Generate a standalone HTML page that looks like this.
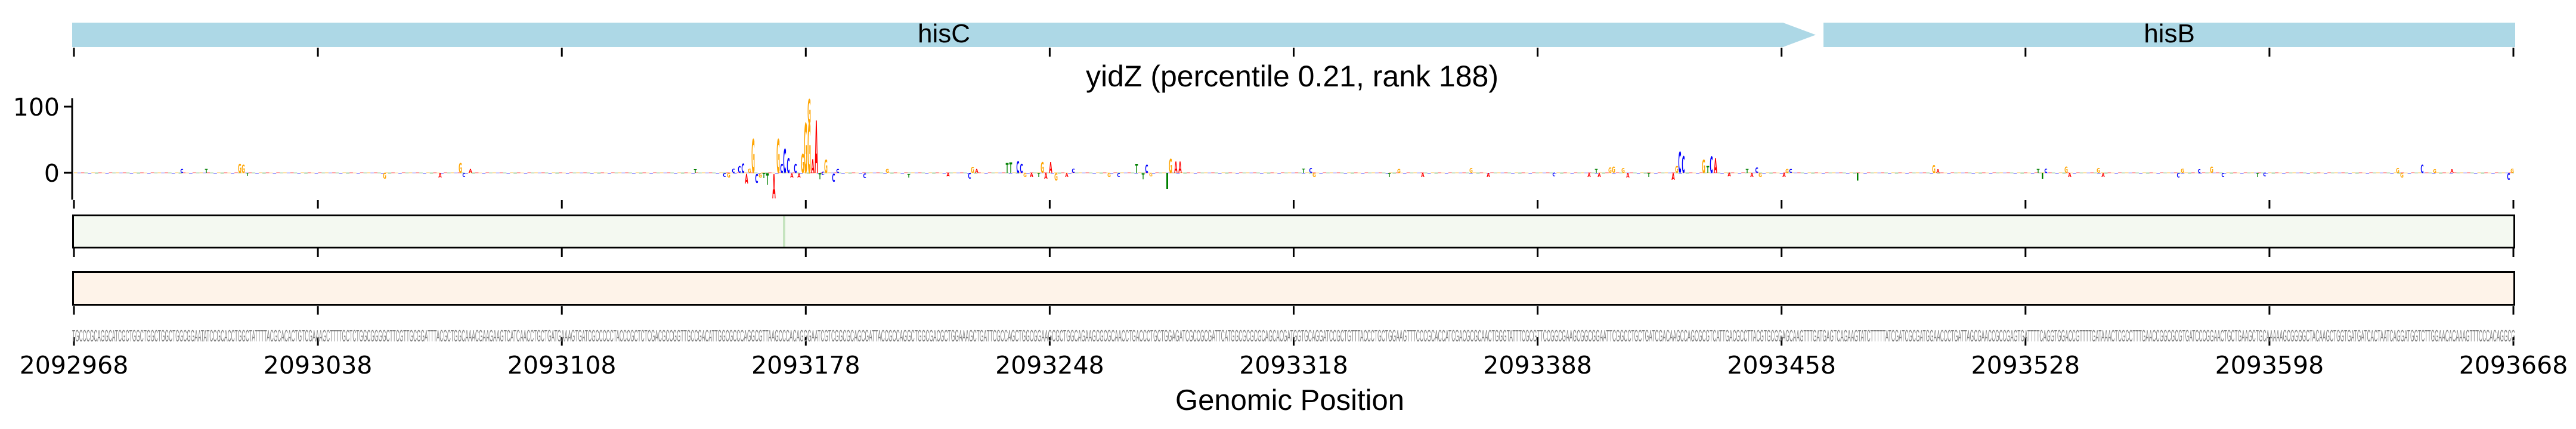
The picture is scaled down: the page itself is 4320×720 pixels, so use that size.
<!DOCTYPE html>
<html><head><meta charset="utf-8"><style>
html,body{margin:0;padding:0;background:#fff;}
svg{display:block;}
.lg{font-family:"DejaVu Sans",sans-serif;font-weight:bold;font-size:10px;text-anchor:middle;}
.A{fill:#ff0000}.C{fill:#0000ff}.G{fill:#ffa500}.T{fill:#008000}
</style></head><body>
<svg width="4320" height="720" viewBox="0 0 4320 720" xmlns="http://www.w3.org/2000/svg">
<defs>
<pattern id="noise" patternUnits="userSpaceOnUse" x="124" y="0" width="70.2" height="720">
<rect x="0" y="289" width="5.8" height="2" fill="#ffa500"/>
<rect x="5.8" y="289.5" width="5.8" height="1.5" fill="#0000ff"/>
<rect x="11.7" y="289" width="5.8" height="2" fill="#ff0000"/>
<rect x="17.5" y="289.5" width="5.8" height="1.5" fill="#008000"/>
<rect x="23.4" y="290" width="5.8" height="2" fill="#0000ff"/>
<rect x="29.2" y="289" width="5.8" height="1.5" fill="#ffa500"/>
<rect x="35.1" y="289.5" width="5.8" height="2" fill="#008000"/>
<rect x="40.9" y="289" width="5.8" height="2" fill="#ff0000"/>
<rect x="46.8" y="289.5" width="5.8" height="1.5" fill="#ffa500"/>
<rect x="52.6" y="290" width="5.8" height="2" fill="#0000ff"/>
<rect x="58.5" y="289" width="5.8" height="1.5" fill="#ff0000"/>
<rect x="64.3" y="289.5" width="5.8" height="1.5" fill="#008000"/>
</pattern>
</defs>

<!-- gene track -->
<rect x="121" y="38" width="2870" height="41" fill="#add8e6"/>
<polygon points="2990,38 3045,58.5 2990,79" fill="#add8e6"/>
<rect x="3058" y="38" width="1160" height="41" fill="#add8e6"/>
<text x="1583" y="71" font-family="Liberation Sans, sans-serif" font-size="44" text-anchor="middle" fill="#000">hisC</text>
<text x="3638" y="71" font-family="Liberation Sans, sans-serif" font-size="44" text-anchor="middle" fill="#000">hisB</text>

<!-- title -->
<text x="2167" y="145" font-family="Liberation Sans, sans-serif" font-size="50" text-anchor="middle" fill="#000">yidZ (percentile 0.21, rank 188)</text>

<!-- ticks -->
<g stroke="#000" stroke-width="3">
<path d="M124 80V95M533.1 80V95M942.2 80V95M1351.3 80V95M1760.4 80V95M2169.5 80V95M2578.6 80V95M2987.7 80V95M3396.8 80V95M3805.9 80V95M4215 80V95"/>
<path d="M124 336V350M533.1 336V350M942.2 336V350M1351.3 336V350M1760.4 336V350M2169.5 336V350M2578.6 336V350M2987.7 336V350M3396.8 336V350M3805.9 336V350M4215 336V350"/>
<path d="M124 417V431M533.1 417V431M942.2 417V431M1351.3 417V431M1760.4 417V431M2169.5 417V431M2578.6 417V431M2987.7 417V431M3396.8 417V431M3805.9 417V431M4215 417V431"/>
<path d="M124 514V528M533.1 514V528M942.2 514V528M1351.3 514V528M1760.4 514V528M2169.5 514V528M2578.6 514V528M2987.7 514V528M3396.8 514V528M3805.9 514V528M4215 514V528"/>
<path d="M124 566V580M533.1 566V580M942.2 566V580M1351.3 566V580M1760.4 566V580M2169.5 566V580M2578.6 566V580M2987.7 566V580M3396.8 566V580M3805.9 566V580M4215 566V580"/>
</g>

<!-- logo axis -->
<line x1="121" y1="165" x2="121" y2="335" stroke="#000" stroke-width="3"/>
<line x1="107" y1="179" x2="121" y2="179" stroke="#000" stroke-width="3"/>
<line x1="107" y1="290" x2="121" y2="290" stroke="#000" stroke-width="3"/>
<text x="100" y="194" font-family="DejaVu Sans, sans-serif" font-size="41" text-anchor="end">100</text>
<text x="100" y="305" font-family="DejaVu Sans, sans-serif" font-size="41" text-anchor="end">0</text>

<!-- logo noise -->
<rect x="124" y="286" width="4092" height="10" fill="url(#noise)" opacity="0.35"/>

<!-- logo letters -->
<g class="lg">
<text class="G" transform="translate(402,290) scale(0.7,2.06)">G</text>
<text class="G" transform="translate(408,290) scale(0.7,1.9)">G</text>
<text class="T" transform="translate(415,295) scale(0.7,0.68)">T</text>
<text class="C" transform="translate(305,290) scale(0.7,0.9)">C</text>
<text class="T" transform="translate(346,290) scale(0.7,0.9)">T</text>
<text class="G" transform="translate(645,300) scale(0.7,1.3)">G</text>
<text class="A" transform="translate(738,298) scale(0.7,1.1)">A</text>
<text class="G" transform="translate(772,290) scale(0.7,2.2)">G</text>
<text class="A" transform="translate(789,290) scale(0.7,0.9)">A</text>
<text class="C" transform="translate(778,297) scale(0.7,0.9)">C</text>
<text class="T" transform="translate(1166,290) scale(0.7,0.8)">T</text>
<text class="C" transform="translate(1215,297) scale(0.7,0.9)">C</text>
<text class="G" transform="translate(1222,298) scale(0.7,1.1)">G</text>
<text class="C" transform="translate(1230,290) scale(0.7,1.0)">C</text>
<text class="C" transform="translate(1240,290) scale(0.7,1.6)">C</text>
<text class="C" transform="translate(1246,290) scale(0.7,2.1)">C</text>
<text class="A" transform="translate(1252,308) scale(0.7,2.2)">A</text>
<text class="G" transform="translate(1257,290) scale(0.7,1.0)">G</text>
<text class="G" transform="translate(1263,290) scale(0.7,7.8)">G</text>
<text class="C" transform="translate(1269,307) scale(0.7,2.0)">C</text>
<text class="G" transform="translate(1275,298) scale(0.7,1.0)">G</text>
<text class="T" transform="translate(1281,299) scale(0.7,1.2)">T</text>
<text class="T" transform="translate(1287,310) scale(0.7,2.6)">T</text>
<text class="A" transform="translate(1298,333) scale(0.7,5.6)">A</text>
<text class="G" transform="translate(1305,290) scale(0.7,7.8)">G</text>
<text class="C" transform="translate(1311,290) scale(0.7,2.0)">C</text>
<text class="C" transform="translate(1316,290) scale(0.7,5.5)">C</text>
<text class="C" transform="translate(1322,290) scale(0.7,3.4)">C</text>
<text class="A" transform="translate(1328,298) scale(0.7,1.0)">A</text>
<text class="C" transform="translate(1334,290) scale(0.7,2.0)">C</text>
<text class="A" transform="translate(1340,298) scale(0.7,1.0)">A</text>
<text class="G" transform="translate(1346,290) scale(0.7,4.4)">G</text>
<text class="G" transform="translate(1351,290) scale(0.7,11.4)">G</text>
<text class="G" transform="translate(1357,207) scale(0.7,5.6)">G</text>
<text class="G" transform="translate(1357,290) scale(0.7,11.4)">G</text>
<text class="A" transform="translate(1363,290) scale(0.7,3.1)">A</text>
<text class="A" transform="translate(1369,290) scale(0.7,12.0)">A</text>
<text class="T" transform="translate(1375,301) scale(0.7,1.4)">T</text>
<text class="C" transform="translate(1380,294) scale(0.7,0.8)">C</text>
<text class="G" transform="translate(1385,290) scale(0.7,3.0)">G</text>
<text class="C" transform="translate(1398,305) scale(0.7,1.9)">C</text>
<text class="C" transform="translate(1405,290) scale(0.7,0.9)">C</text>
<text class="C" transform="translate(1450,299) scale(0.7,1.1)">C</text>
<text class="G" transform="translate(1488,290) scale(0.7,0.9)">G</text>
<text class="T" transform="translate(1524,298) scale(0.7,0.8)">T</text>
<text class="A" transform="translate(1590,296) scale(0.7,0.8)">A</text>
<text class="C" transform="translate(1626,300) scale(0.7,1.3)">C</text>
<text class="G" transform="translate(1631,290) scale(0.7,1.3)">G</text>
<text class="A" transform="translate(1638,290) scale(0.7,0.9)">A</text>
<text class="T" transform="translate(1689,290) scale(0.7,2.2)">T</text>
<text class="T" transform="translate(1695,290) scale(0.7,2.4)">T</text>
<text class="C" transform="translate(1707,290) scale(0.7,2.7)">C</text>
<text class="C" transform="translate(1713,290) scale(0.7,2.0)">C</text>
<text class="G" transform="translate(1719,297) scale(0.7,0.9)">G</text>
<text class="A" transform="translate(1730,297) scale(0.7,1.0)">A</text>
<text class="T" transform="translate(1742,297) scale(0.7,1.0)">T</text>
<text class="G" transform="translate(1748,290) scale(0.7,2.5)">G</text>
<text class="A" transform="translate(1754,300) scale(0.7,1.3)">A</text>
<text class="A" transform="translate(1762,290) scale(0.7,2.5)">A</text>
<text class="G" transform="translate(1771,303) scale(0.7,1.7)">G</text>
<text class="A" transform="translate(1789,297) scale(0.7,0.9)">A</text>
<text class="C" transform="translate(1800,290) scale(0.7,1.0)">C</text>
<text class="G" transform="translate(1860,297) scale(0.7,1.0)">G</text>
<text class="C" transform="translate(1876,297) scale(0.7,0.9)">C</text>
<text class="T" transform="translate(1906,290) scale(0.7,2.0)">T</text>
<text class="T" transform="translate(1917,301) scale(0.7,1.3)">T</text>
<text class="C" transform="translate(1923,290) scale(0.7,1.9)">C</text>
<text class="G" transform="translate(1930,296) scale(0.7,0.8)">G</text>
<rect x="1956" y="290" width="3" height="27" fill="#008000"/>
<text class="G" transform="translate(1963,290) scale(0.7,3.2)">G</text>
<text class="A" transform="translate(1972,290) scale(0.7,2.6)">A</text>
<text class="A" transform="translate(1979,290) scale(0.7,2.6)">A</text>
<text class="T" transform="translate(2186,290) scale(0.7,1.0)">T</text>
<text class="C" transform="translate(2198,290) scale(0.7,1.1)">C</text>
<text class="G" transform="translate(2204,297) scale(0.7,1.0)">G</text>
<text class="T" transform="translate(2330,297) scale(0.7,0.9)">T</text>
<text class="G" transform="translate(2346,290) scale(0.7,0.9)">G</text>
<text class="A" transform="translate(2386,297) scale(0.7,1.0)">A</text>
<text class="G" transform="translate(2467,290) scale(0.7,1.1)">G</text>
<text class="A" transform="translate(2496,297) scale(0.7,1.0)">A</text>
<text class="C" transform="translate(2606,296) scale(0.7,0.9)">C</text>
<text class="A" transform="translate(2665,297) scale(0.7,0.9)">A</text>
<text class="T" transform="translate(2677,290) scale(0.7,0.9)">T</text>
<text class="A" transform="translate(2682,297) scale(0.7,0.9)">A</text>
<text class="G" transform="translate(2700,290) scale(0.7,1.2)">G</text>
<text class="G" transform="translate(2706,290) scale(0.7,1.4)">G</text>
<text class="A" transform="translate(2730,298) scale(0.7,1.1)">A</text>
<text class="T" transform="translate(2765,297) scale(0.7,1.0)">T</text>
<text class="G" transform="translate(2722,290) scale(0.7,1.1)">G</text>
<text class="A" transform="translate(2806,302) scale(0.7,1.6)">A</text>
<text class="G" transform="translate(2812,290) scale(0.7,1.6)">G</text>
<text class="C" transform="translate(2817,290) scale(0.7,4.8)">C</text>
<text class="C" transform="translate(2823,290) scale(0.7,3.8)">C</text>
<text class="G" transform="translate(2857,290) scale(0.7,3.0)">G</text>
<text class="T" transform="translate(2864,290) scale(0.7,1.6)">T</text>
<text class="C" transform="translate(2870,290) scale(0.7,3.7)">C</text>
<text class="A" transform="translate(2877,290) scale(0.7,3.4)">A</text>
<text class="A" transform="translate(2900,296) scale(0.7,0.9)">A</text>
<text class="T" transform="translate(2930,290) scale(0.7,0.9)">T</text>
<text class="A" transform="translate(2938,297) scale(0.7,1.0)">A</text>
<text class="C" transform="translate(2946,290) scale(0.7,1.2)">C</text>
<text class="G" transform="translate(2952,297) scale(0.7,1.0)">G</text>
<text class="A" transform="translate(2992,297) scale(0.7,1.0)">A</text>
<text class="G" transform="translate(2997,290) scale(0.7,0.9)">G</text>
<text class="C" transform="translate(3003,290) scale(0.7,0.9)">C</text>
<rect x="3114" y="290" width="2.5" height="13" fill="#008000"/>
<text class="G" transform="translate(3243,290) scale(0.7,1.8)">G</text>
<text class="A" transform="translate(3250,290) scale(0.7,0.8)">A</text>
<rect x="3424" y="290" width="2.5" height="10" fill="#008000"/>
<text class="T" transform="translate(3418,290) scale(0.7,0.9)">T</text>
<text class="C" transform="translate(3431,290) scale(0.7,1.0)">C</text>
<text class="G" transform="translate(3465,290) scale(0.7,1.4)">G</text>
<text class="A" transform="translate(3471,297) scale(0.7,1.0)">A</text>
<text class="G" transform="translate(3519,290) scale(0.7,1.1)">G</text>
<text class="A" transform="translate(3527,297) scale(0.7,0.9)">A</text>
<text class="C" transform="translate(3653,298) scale(0.7,1.1)">C</text>
<text class="G" transform="translate(3660,290) scale(0.7,1.0)">G</text>
<text class="C" transform="translate(3688,290) scale(0.7,0.8)">C</text>
<text class="G" transform="translate(3709,290) scale(0.7,1.4)">G</text>
<text class="C" transform="translate(3728,297) scale(0.7,1.0)">C</text>
<text class="T" transform="translate(3786,297) scale(0.7,1.0)">T</text>
<text class="C" transform="translate(3798,296) scale(0.7,0.9)">C</text>
<text class="G" transform="translate(4021,290) scale(0.7,1.1)">G</text>
<text class="G" transform="translate(4028,298) scale(0.7,1.1)">G</text>
<text class="C" transform="translate(4062,290) scale(0.7,1.9)">C</text>
<text class="G" transform="translate(4083,290) scale(0.7,0.8)">G</text>
<text class="A" transform="translate(4112,290) scale(0.7,0.8)">A</text>
<text class="C" transform="translate(4207,302) scale(0.7,1.6)">C</text>
<text class="G" transform="translate(4213,290) scale(0.7,1.0)">G</text>
</g>

<!-- green track -->
<rect x="122.5" y="361.5" width="4094" height="54" fill="#f4f9f1" stroke="#000" stroke-width="3"/>
<rect x="1313" y="363" width="4" height="51" fill="#c5e4bf"/>
<!-- orange track -->
<rect x="122.5" y="456.5" width="4094" height="55" fill="#fef3e9" stroke="#000" stroke-width="3"/>

<!-- sequence -->
<g font-family="Liberation Sans, sans-serif" font-size="28" fill="#808080">
<text x="121" y="573" textLength="1279" lengthAdjust="spacingAndGlyphs">TGCCCGCAGGCATCGCTGGCTGGCTGGCTGGCGGAATATCCGCACCTGGCTATTTTACGCACACTGTCGAAAGCTTTTGCTCTGGCGGGGCTTCGTTGCGGATTTACGCTGGCAAACGAAGAAGTCATCAACCTGCTGATGAAAGTGATCGCCCCCTACCCGCTCTCGACGCCGGTTGCCGACATTGGCGCCCAGGCGTTAAGCCCACAGGGAATCGTC</text>
<text x="1400" y="573" textLength="1400" lengthAdjust="spacingAndGlyphs">GGCGCAGCGATTACCGCCAGGCTGGCGACGCTGGAAAGCTGATTCGCCAGCTGGCGGAAGCGCTGGCAGAAGCGCGCAACCTGACCCTGCTGGAGATCGCCGCGATTCATGGCGCGCGCAGCACGATGGTGCAGGATCCGCTGTTTACCCTGCTGGAAGTTTCCCGCACCATCGACGCGCAACTGGGTATTTCGCGTTCCGGCGAAGCGGCGGAATTCGGCCTGCTGATCGAC</text>
<text x="2800" y="573" textLength="1418" lengthAdjust="spacingAndGlyphs">AAGCCAGCGCGTCATTGACGCCTTACGTGCGGAGCAAGTTTGATGAGTCAGAAGTATCTTTTTATCGATCGCGATGGAACCCTGATTAGCGAACCGCCGAGTGATTTTCAGGTGGACCGTTTTGATAAACTCGCCTTTGAACCGGCGCGTGATCCCGGAACTGCTGAAGCTGCAAAAAGCGGGGCTACAAGCTGGTGATGATCACTAATCAGGATGGTCTTGGAACACAAAGTTTCCCACAGGCG</text>
</g>

<!-- tick labels -->
<g font-family="DejaVu Sans, sans-serif" font-size="41" text-anchor="middle" fill="#000">
<text x="124" y="627">2092968</text>
<text x="533.1" y="627">2093038</text>
<text x="942.2" y="627">2093108</text>
<text x="1351.3" y="627">2093178</text>
<text x="1760.4" y="627">2093248</text>
<text x="2169.5" y="627">2093318</text>
<text x="2578.6" y="627">2093388</text>
<text x="2987.7" y="627">2093458</text>
<text x="3396.8" y="627">2093528</text>
<text x="3805.9" y="627">2093598</text>
<text x="4215" y="627">2093668</text>
</g>
<text x="2163" y="688" font-family="Liberation Sans, sans-serif" font-size="49" text-anchor="middle" fill="#000">Genomic Position</text>
</svg>
</body></html>
